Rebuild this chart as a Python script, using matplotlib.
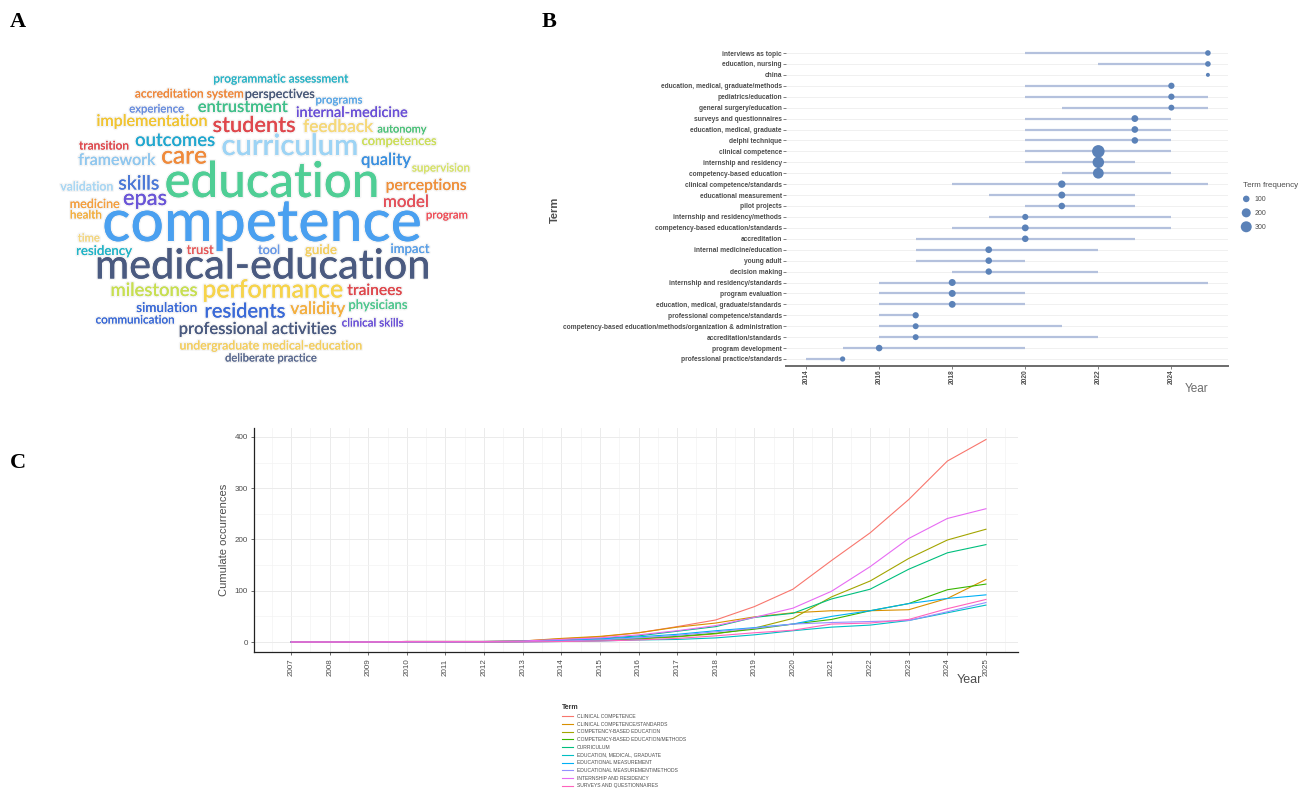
import matplotlib
matplotlib.use("Agg")
import matplotlib.pyplot as plt
import matplotlib.patheffects as pe
from matplotlib.lines import Line2D
import numpy as np

W, H = 1300, 789

# ---------------- data ----------------
# A: word cloud
cloud_words = [
    "programmatic assessment", "accreditation system", "perspectives", "programs",
    "experience", "entrustment", "internal-medicine", "implementation", "students",
    "feedback", "autonomy", "transition", "outcomes", "curriculum", "competences",
    "framework", "care", "quality", "supervision", "education", "validation",
    "skills", "perceptions", "epas", "medicine", "model", "health", "program",
    "competence", "time", "residency", "trust", "tool", "guide", "impact",
    "medical-education", "milestones", "performance", "trainees", "simulation",
    "validity", "physicians", "residents", "communication", "clinical skills",
    "professional activities", "undergraduate medical-education", "deliberate practice",
]
cloud_colors = [
    "#2bb5c8", "#f0883a", "#4a5a7a", "#5aa8e8",
    "#6a8ee0", "#3fc08a", "#6a4fd8", "#f2c530", "#e0474c",
    "#f7d978", "#4cc37a", "#e0474c", "#20a8d0", "#9dd4f5", "#cde05a",
    "#90c8f0", "#f08a3a", "#3a90e0", "#d8e46a", "#4fce95", "#a9d8f5",
    "#4a78d8", "#f0903a", "#6a55d8", "#f5a040", "#e5505a", "#f5b040", "#f0505a",
    "#4aa0f0", "#f5d880", "#20b5c8", "#e85a5a", "#6a9ae8", "#f5d060", "#5aa0e8",
    "#4a5a80", "#c8e050", "#f7d44a", "#e0474c", "#3a6ad8",
    "#f5b040", "#50c890", "#3a6ad8", "#3a6ad8", "#6a50d8",
    "#4a5a80", "#f5d060", "#5a6a90",
]

# B: term trends
terms_b = [
    "interviews as topic", "education, nursing", "china",
    "education, medical, graduate/methods", "pediatrics/education",
    "general surgery/education", "surveys and questionnaires",
    "education, medical, graduate", "delphi technique", "clinical competence",
    "internship and residency", "competency-based education",
    "clinical competence/standards", "educational measurement", "pilot projects",
    "internship and residency/methods", "competency-based education/standards",
    "accreditation", "internal medicine/education", "young adult",
    "decision making", "internship and residency/standards", "program evaluation",
    "education, medical, graduate/standards", "professional competence/standards",
    "competency-based education/methods/organization & administration",
    "accreditation/standards", "program development",
    "professional practice/standards",
]
year_q1_b = [2020, 2022, 2025, 2020, 2020, 2021, 2020, 2020, 2020, 2020,
             2020, 2021, 2018, 2019, 2020, 2019, 2018, 2017, 2017, 2017,
             2018, 2016, 2016, 2016, 2016, 2016, 2016, 2015, 2014]
year_med_b = [2025, 2025, 2025, 2024, 2024, 2024, 2023, 2023, 2023, 2022,
              2022, 2022, 2021, 2021, 2021, 2020, 2020, 2020, 2019, 2019,
              2019, 2018, 2018, 2018, 2017, 2017, 2017, 2016, 2015]
year_q3_b = [2025, 2025, 2025, 2024, 2025, 2025, 2024, 2024, 2024, 2024,
             2023, 2024, 2025, 2023, 2023, 2024, 2024, 2023, 2022, 2020,
             2022, 2025, 2020, 2020, 2017, 2021, 2022, 2020, 2015]
freq_b = [70, 70, 30, 90, 90, 80, 110, 105, 100, 395,
          330, 290, 130, 115, 100, 85, 110, 100, 105, 100,
          95, 115, 115, 110, 90, 80, 80, 100, 60]

# C: cumulative occurrences
years_c = list(range(2007, 2026))
terms_c = [
    "CLINICAL COMPETENCE", "CLINICAL COMPETENCE/STANDARDS",
    "COMPETENCY-BASED EDUCATION", "COMPETENCY-BASED EDUCATION/METHODS",
    "CURRICULUM", "EDUCATION, MEDICAL, GRADUATE", "EDUCATIONAL MEASUREMENT",
    "EDUCATIONAL MEASUREMENT/METHODS", "INTERNSHIP AND RESIDENCY",
    "SURVEYS AND QUESTIONNAIRES",
]
clinical_competence = [0, 0, 0, 1, 1, 1, 2, 6, 10, 18, 30, 43, 69, 103, 159, 213, 278, 353, 395]
clinical_competence_std = [0, 0, 0, 1, 1, 1, 2, 7, 11, 18, 29, 37, 49, 57, 61, 61, 63, 85, 122]
cbe = [0, 0, 0, 0, 0, 0, 1, 2, 3, 6, 10, 16, 27, 46, 88, 119, 163, 199, 220]
cbe_methods = [0, 0, 0, 0, 0, 0, 1, 2, 4, 7, 11, 17, 25, 35, 44, 61, 75, 102, 113]
curriculum = [0, 0, 0, 1, 1, 1, 2, 4, 7, 12, 21, 30, 48, 56, 84, 103, 142, 174, 190]
edu_med_grad = [0, 0, 0, 0, 0, 0, 0, 1, 2, 4, 5, 8, 14, 22, 29, 33, 42, 57, 72]
edu_measurement = [0, 0, 0, 0, 0, 1, 1, 3, 6, 10, 15, 22, 28, 35, 50, 61, 75, 85, 92]
edu_measurement_methods = [0, 0, 0, 0, 0, 0, 1, 2, 4, 8, 13, 20, 27, 35, 38, 40, 42, 59, 77]
internship_residency = [0, 0, 0, 1, 1, 1, 2, 5, 8, 14, 22, 32, 48, 66, 99, 147, 202, 241, 260]
surveys = [0, 0, 0, 0, 0, 0, 0, 1, 2, 4, 7, 12, 18, 23, 35, 37, 44, 65, 83]
series_c = [clinical_competence, clinical_competence_std, cbe, cbe_methods, curriculum,
            edu_med_grad, edu_measurement, edu_measurement_methods,
            internship_residency, surveys]
colors_c = ["#F8766D", "#D89000", "#A3A500", "#39B600", "#00BF7D",
            "#00BFC4", "#00B0F6", "#9590FF", "#E76BF3", "#FF62BC"]

# ---------------- layout (pixels of the 1300x789 image) ----------------
# word cloud: centre x, centre y, word width
cloud_layout = [
    (280, 79, 135), (189, 94, 109), (280, 94, 70), (339, 100, 47),
    (157, 109, 55), (243, 107, 90), (352, 113, 112), (152, 122, 111), (254, 126, 83),
    (338, 127, 70), (402, 129, 49), (104, 146, 50), (175, 141, 80), (290, 147, 137), (399, 141, 75),
    (117, 161, 77), (184, 156, 46), (386, 160, 50), (441, 168, 58), (272, 183, 215), (87, 187, 53),
    (139, 184, 41), (426, 186, 81), (145, 199, 44), (95, 204, 50), (406, 202, 46), (86, 215, 32), (447, 215, 42),
    (262, 224, 320), (89, 238, 22), (104, 251, 56), (200, 250, 27), (269, 250, 22), (321, 250, 32), (410, 249, 39),
    (263, 267, 336), (154, 291, 87), (273, 290, 141), (375, 291, 55), (167, 308, 61),
    (318, 309, 55), (378, 305, 59), (245, 312, 81), (135, 320, 79), (373, 323, 62),
    (258, 329, 158), (271, 346, 183), (271, 358, 92),
]


def px_axes(fig, left, top, right, bottom):
    return fig.add_axes([left / W, 1 - bottom / H, (right - left) / W, (bottom - top) / H])


fig = plt.figure(figsize=(W / 100, H / 100), dpi=100)
fig.patch.set_facecolor("white")

# panel letters
for letter, x, y in [("A", 10, 22), ("B", 542, 22), ("C", 10, 463)]:
    fig.text(x / W, 1 - y / H, letter, family="Liberation Serif", weight="bold",
             fontsize=16, va="center", ha="left")

# ---------------- A: word cloud ----------------
ax_a = px_axes(fig, 55, 60, 480, 372)
ax_a.set_xlim(55, 480)
ax_a.set_ylim(372, 60)
ax_a.set_axis_off()
renderer = fig.canvas.get_renderer()
glow = [pe.withStroke(linewidth=2.2, foreground=(0, 0, 0, 0.04))]
for word, color, (cx, cy, w) in zip(cloud_words, cloud_colors, cloud_layout):
    t = ax_a.text(cx, cy, word, color=color, family="Lato", weight="medium",
                  fontsize=20, ha="center", va="center", path_effects=glow)
    bw = t.get_window_extent(renderer).width
    t.set_fontsize(20 * w / bw)

# ---------------- B: term trend ----------------
row_h = (359 - 53) / 28
ax_b = px_axes(fig, 786, 53 - 0.6 * row_h, 1228, 359 + 0.6 * row_h)
rows = np.arange(len(terms_b))
ax_b.hlines(rows, 2013.45, 2025.55, color="#eeeeee", lw=0.6, zorder=0)
ax_b.hlines(rows, year_q1_b, year_q3_b, color="#b4c1dd", lw=1.6, zorder=1)
size_b = 2.3 + 0.2 * np.array(freq_b)
ax_b.scatter(year_med_b, rows, s=size_b, color="#5b82b8", edgecolor="none", zorder=2)
ax_b.set_xlim(2013.45, 2025.55)
ax_b.set_ylim(len(terms_b) - 0.4, -0.6)
ax_b.set_yticks(rows)
ax_b.set_yticklabels(terms_b, family="Liberation Sans", weight="bold",
                     fontsize=4.75, color="#4d4d4d")
ax_b.set_xticks(range(2014, 2025, 2))
ax_b.set_xticklabels([str(y) for y in range(2014, 2025, 2)], rotation=90,
                     family="Liberation Sans", weight="bold", fontsize=4.8, color="#4d4d4d")
ax_b.tick_params(axis="both", length=2, width=0.5, color="#4d4d4d", pad=1)
for s in ["top", "right", "left"]:
    ax_b.spines[s].set_visible(False)
ax_b.spines["bottom"].set_color("#6b6b6b")
ax_b.spines["bottom"].set_linewidth(1.4)
fig.text(1208 / W, 1 - 389 / H, "Year", fontsize=8.5, color="#6b6b6b",
         family="Liberation Sans", ha="right", va="center")
fig.text(555 / W, 1 - 210 / H, "Term", fontsize=8, color="#4d4d4d", rotation=90,
         family="Liberation Sans", weight="bold", ha="center", va="center")

# legend B
leg_sizes = [100, 200, 300]
handles_b = [ax_b.scatter([], [], s=2.3 + 0.2 * v, color="#5b82b8", edgecolor="none")
             for v in leg_sizes]
leg_b = fig.legend(handles_b, [str(v) for v in leg_sizes], title="Term frequency",
                   loc="upper left", bbox_to_anchor=(1240 / W, 1 - 179 / H),
                   frameon=False, prop={"family": "Liberation Sans", "size": 5},
                   title_fontproperties={"family": "Liberation Sans", "size": 5.8},
                   labelspacing=1.0, handletextpad=0.7, borderaxespad=0, handlelength=1)
leg_b._legend_box.align = "left"
for txt in leg_b.get_texts():
    txt.set_color("#4d4d4d")
leg_b.get_title().set_color("#4d4d4d")

# ---------------- C: cumulative occurrences ----------------
ax_c = px_axes(fig, 254, 428, 1018, 652)
for vals, col in zip(series_c, colors_c):
    ax_c.plot(years_c, vals, color=col, lw=0.8, zorder=2)
ax_c.set_xlim(2006.04, 2025.83)
ax_c.set_ylim(-19.5, 417.5)
ax_c.set_xticks(years_c)
ax_c.set_xticklabels([str(y) for y in years_c], rotation=90, fontsize=5.8,
                     color="#4d4d4d", family="Liberation Sans")
ax_c.set_xticks(np.arange(2006.5, 2026, 1), minor=True)
ax_c.set_yticks([0, 100, 200, 300, 400])
ax_c.set_yticklabels(["0", "100", "200", "300", "400"], fontsize=5.8,
                     color="#4d4d4d", family="Liberation Sans")
ax_c.set_yticks([50, 150, 250, 350], minor=True)
ax_c.grid(which="major", color="#ebebeb", lw=0.7, zorder=0)
ax_c.grid(which="minor", color="#f3f3f3", lw=0.5, zorder=0)
ax_c.set_axisbelow(True)
ax_c.tick_params(which="major", length=2.5, width=0.5, color="#333333", pad=2)
ax_c.tick_params(which="minor", length=0)
for s in ["top", "right"]:
    ax_c.spines[s].set_visible(False)
for s in ["left", "bottom"]:
    ax_c.spines[s].set_color("#222222")
    ax_c.spines[s].set_linewidth(0.9)
ax_c.set_ylabel("Cumulate occurrences", fontsize=8, color="#4d4d4d",
                family="Liberation Sans", labelpad=4)
fig.text(982 / W, 1 - 680 / H, "Year", fontsize=9, color="#4d4d4d",
         family="Liberation Sans", ha="right", va="center")

handles_c = [Line2D([], [], color=c, lw=0.8) for c in colors_c]
leg_c = fig.legend(handles_c, terms_c, title="Term", loc="upper left",
                   bbox_to_anchor=(560 / W, 1 - 702 / H), frameon=False,
                   prop={"family": "Liberation Sans", "size": 3.6},
                   title_fontproperties={"family": "Liberation Sans", "size": 5,
                                         "weight": "bold"},
                   labelspacing=0.55, handlelength=2.2, handletextpad=0.8,
                   borderaxespad=0)
leg_c._legend_box.align = "left"
for txt in leg_c.get_texts():
    txt.set_color("#4d4d4d")
leg_c.get_title().set_color("#333333")

fig.savefig("out.png", dpi=100, facecolor="white")
